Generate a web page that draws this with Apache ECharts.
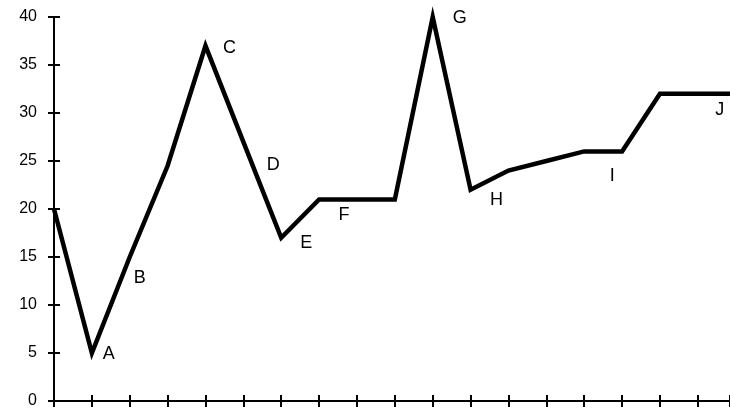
<!DOCTYPE html>
<html>
<head>
<meta charset="utf-8">
<script src="https://cdn.jsdelivr.net/npm/echarts@6/dist/echarts.min.js"></script>
<style>html,body{margin:0;padding:0;background:#fff;}#c{width:730px;height:411px;}</style>
</head>
<body>
<div id="c"></div>
<script>
// Data
var xValues = [0, 1, 2, 3, 4, 5, 6, 7, 8, 9, 10, 11, 12, 13, 14, 15, 16, 17, 18];
var yValues = [20, 5, 15, 24.5, 37, 27, 17, 21, 21, 21, 40, 22, 24, 25, 26, 26, 32, 32, 32];
// point letters: index in series -> letter
var pointNames = ['', 'A', 'B', '', 'C', 'D', 'E', 'F', '', '', 'G', 'H', '', '', 'I', '', '', 'J', ''];
var yTicks = [0, 5, 10, 15, 20, 25, 30, 35, 40];

// label offsets (style only)
var labelOffsets = {
  A: [17, 1], B: [10, 21], C: [24, 2], D: [30, 23], E: [25, 5],
  F: [25, 16], G: [27, 1], H: [26, 10], I: [28, 25], J: [22, 16]
};

var lineData = xValues.map(function (x, i) {
  var nm = pointNames[i];
  var item = { value: [x, yValues[i]] };
  if (nm) {
    item.label = {
      show: true, formatter: nm, position: 'inside',
      offset: labelOffsets[nm]
    };
  }
  return item;
});

var chart = echarts.init(document.getElementById('c'));
var axisCommon = {
  type: 'value',
  axisLine: { show: true, onZero: false, lineStyle: { color: '#000', width: 2 } },
  splitLine: { show: false }
};
var xMax = 17.85; // the picture is cut off just before the 18th tick
chart.setOption({
  animation: false,
  backgroundColor: '#fff',
  grid: { left: 54, right: 0, top: 17, bottom: 10, containLabel: false },
  xAxis: [
    Object.assign({}, axisCommon, {
      min: 0, max: xMax, interval: 1,
      axisTick: { show: true, inside: false, length: 6, lineStyle: { color: '#000', width: 2 } },
      axisLabel: { show: false }
    }),
    Object.assign({}, axisCommon, {
      min: 0, max: xMax, interval: 1, position: 'bottom',
      axisTick: { show: true, inside: true, length: 6, lineStyle: { color: '#000', width: 2 } },
      axisLabel: { show: false }
    })
  ],
  yAxis: [
    Object.assign({}, axisCommon, {
      min: 0, max: 40, interval: 5,
      axisTick: { show: true, inside: false, length: 6, lineStyle: { color: '#000', width: 2 } },
      axisLabel: {
        show: true, color: '#000', fontSize: 16, margin: 17,
        fontFamily: 'Liberation Sans',
        formatter: function (v) { return yTicks.indexOf(v) >= 0 ? String(v) : ''; }
      }
    }),
    Object.assign({}, axisCommon, {
      min: 0, max: 40, interval: 5, position: 'left',
      axisTick: { show: true, inside: true, length: 6, lineStyle: { color: '#000', width: 2 } },
      axisLabel: { show: false }
    })
  ],
  series: [{
    type: 'line',
    data: lineData,
    symbol: 'circle',
    symbolSize: 0.1,
    itemStyle: { color: 'rgba(0,0,0,0)' },
    lineStyle: { color: '#000', width: 4.5, join: 'miter', cap: 'butt' },
    label: { color: '#000', fontSize: 18, fontFamily: 'Liberation Sans' },
    clip: false,
    z: 3
  }]
});
</script>
</body>
</html>
